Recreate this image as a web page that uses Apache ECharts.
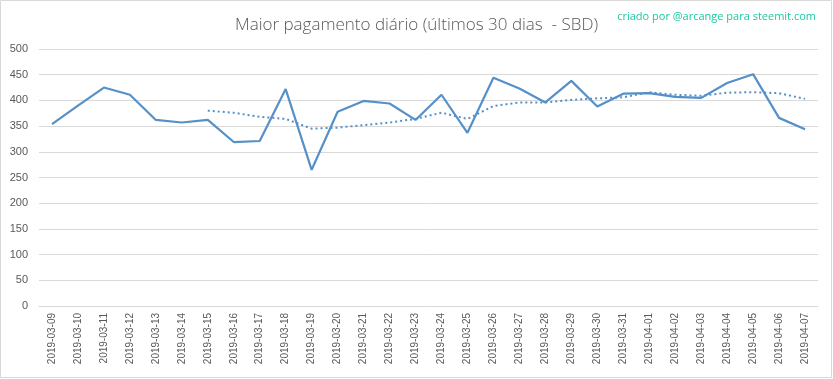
<!DOCTYPE html>
<html><head><meta charset="utf-8">
<script src="https://cdn.jsdelivr.net/npm/echarts@6/dist/echarts.min.js"></script>
<style>html,body{margin:0;padding:0;background:#fff}#c{width:833px;height:379px}</style>
</head><body><div id="c"></div>
<script>
const categories = ["2019-03-09","2019-03-10","2019-03-11","2019-03-12","2019-03-13","2019-03-14","2019-03-15","2019-03-16","2019-03-17","2019-03-18","2019-03-19","2019-03-20","2019-03-21","2019-03-22","2019-03-23","2019-03-24","2019-03-25","2019-03-26","2019-03-27","2019-03-28","2019-03-29","2019-03-30","2019-03-31","2019-04-01","2019-04-02","2019-04-03","2019-04-04","2019-04-05","2019-04-06","2019-04-07"];
const dailyMax = [354,390,425,411,362,357,362,319,321,422,265,378,399,394,362,411,337,444,423,396,438,388,413,414,407,405,434,451,366,344];
const movingAvg = [null,null,null,null,null,null,380,376,368,364,345,347,352,357,364,376,364,389,396,396,401,404,406,416,411,409,415,416,414,403];
const yTicks = {min:0, max:500, interval:50};
const titleText = "Maior pagamento diário (últimos 30 dias  - SBD)";
const creditText = "criado por @arcange para steemit.com";

const chart = echarts.init(document.getElementById('c'));
chart.setOption({
  animation:false,
  backgroundColor:'#fff',
  title:[{text:titleText,left:'center',top:12,textStyle:{fontFamily:'Open Sans',fontWeight:300,fontSize:17,color:'#595959'}},
         {text:creditText,right:12,top:6,textStyle:{fontFamily:'Open Sans',fontWeight:400,fontSize:11,color:'#1fc8a0'}}],
  graphic:[{type:'rect',shape:{x:0.5,y:0.5,width:831,height:377},style:{fill:'none',stroke:'#d9d9d9',lineWidth:1},silent:true}],
  grid:{left:39,right:15,top:49,bottom:73},
  xAxis:{type:'category',data:categories,boundaryGap:true,
    axisLine:{lineStyle:{color:'#d9d9d9'}},axisTick:{show:false},
    axisLabel:{rotate:90,fontFamily:'Liberation Sans',fontSize:10,color:'#595959',margin:7,interval:0}},
  yAxis:{type:'value',min:yTicks.min,max:yTicks.max,interval:yTicks.interval,
    axisLine:{show:false},axisTick:{show:false},
    axisLabel:{fontFamily:'Liberation Sans',fontSize:11,color:'#595959',margin:11},
    splitLine:{lineStyle:{color:'#d9d9d9',width:1}}},
  series:[
    {type:'line',data:dailyMax,symbol:'none',lineStyle:{color:'#5590c8',width:2.2}},
    {type:'line',data:movingAvg,symbol:'none',connectNulls:false,lineStyle:{color:'#5590c8',width:2,type:[2,3]}}
  ]
});
</script></body></html>
